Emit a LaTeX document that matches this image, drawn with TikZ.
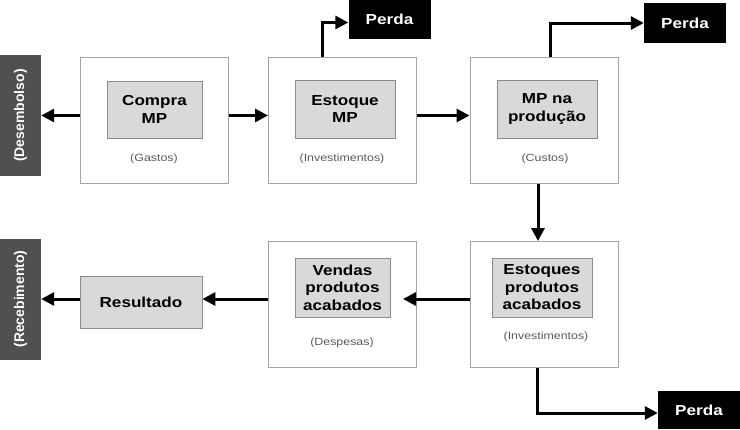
\documentclass[tikz,border=0pt]{standalone}
\usepackage{fontspec}
\usepackage{xcolor}
\usepackage{tikz}
\usetikzlibrary{arrows.meta, positioning, calc}
\newfontfamily\diagfont[FakeStretch=1.18]{Liberation Sans}
\newfontfamily\sidefont{Liberation Sans}
\definecolor{framegray}{RGB}{165, 165, 165}
\definecolor{innerfill}{RGB}{217, 217, 217}
\definecolor{innerline}{RGB}{140, 140, 140}
\definecolor{sidegray}{RGB}{80, 80, 80}
\definecolor{notegray}{RGB}{90, 90, 90}

\begin{document}
\begin{tikzpicture}[
    x=1pt, y=-1pt,
    outerbox/.style={draw=framegray, line width=1pt, fill=white, minimum width=148pt, minimum height=126pt, inner sep=0pt},
    innerbox/.style={draw=innerline, line width=0.8pt, fill=innerfill, minimum width=100pt, minimum height=58pt, inner sep=0pt, font=\diagfont\bfseries\fontsize{14.5}{17.5}\selectfont, align=center},
    lossbox/.style={fill=black, text=white, minimum width=82pt, minimum height=39pt, inner sep=0pt, font=\diagfont\bfseries\fontsize{14.5}{17}\selectfont},
    sidebox/.style={fill=sidegray, text=white, minimum width=41pt, minimum height=121pt, inner sep=0pt},
    sidetext/.style={text=white, rotate=90, font=\sidefont\bfseries\fontsize{14}{16}\selectfont},
    note/.style={text=notegray, font=\diagfont\fontsize{10.5}{12}\selectfont},
    arrow/.style={-{Triangle[length=13pt, width=13pt]}, line width=3pt, black}
]
    \useasboundingbox (0,0) rectangle (740,429);

    % Nodes - side bars
    \node[sidebox] (desemb) at (20.5,115.5) {};
    \node[sidetext] at (desemb.center) {(Desembolso)};
    \node[sidebox] (receb) at (20.5,299) {};
    \node[sidetext] at (receb.center) {(Recebimento)};

    % Nodes - top row
    \node[outerbox] (compra) at (154,120.5) {};
    \node[innerbox, minimum width=95pt, minimum height=57pt] (comprain) at (154.5,109.5) {Compra\\MP};
    \node[note] at (154,159) {(Gastos)};

    \node[outerbox] (estoque) at (342.5,120.5) {};
    \node[innerbox] (estoquein) at (345,109) {Estoque\\MP};
    \node[note] at (342,159) {(Investimentos)};

    \node[outerbox] (mp) at (544,120.5) {};
    \node[innerbox] (mpin) at (547,109) {MP na\\produção};
    \node[note] at (545,159) {(Custos)};

    % Nodes - bottom row
    \node[outerbox] (vendas) at (342.5,304.5) {};
    \node[innerbox, minimum width=95pt, minimum height=59pt] (vendasin) at (342.5,287.5) {Vendas\\produtos\\acabados};
    \node[note] at (342,343) {(Despesas)};

    \node[outerbox] (estoques) at (544,304.5) {};
    \node[innerbox, minimum height=59pt] (estoquesin) at (542,287.5) {Estoques\\produtos\\acabados};
    \node[note] at (546,337) {(Investimentos)};

    \node[innerbox, minimum width=122pt, minimum height=52pt] (resultado) at (141,302) {Resultado};

    % Nodes - losses
    \node[lossbox] (perda1) at (389.5,19.5) {Perda};
    \node[lossbox, minimum height=40pt] (perda2) at (685,23) {Perda};
    \node[lossbox, minimum height=38pt] (perda3) at (699,410) {Perda};

    % Arrows
    \draw[arrow] ([yshift=5pt]compra.west) -- (desemb.east);
    \draw[arrow] ([yshift=5pt]compra.east) -- ([yshift=5pt]estoque.west);
    \draw[arrow] ([yshift=5pt]estoque.east) -- ([yshift=5pt]mp.west);
    \draw[arrow] ([xshift=-20.5pt]estoque.north) |- ([yshift=-3pt]perda1.west);
    \draw[arrow] ([xshift=6pt]mp.north) |- (perda2.west);
    \draw[arrow] ([xshift=-6pt]mp.south) -- ([xshift=-6pt]estoques.north);
    \draw[arrow] ([xshift=-7pt]estoques.south) |- ([yshift=-3pt]perda3.west);
    \draw[arrow] ([yshift=5.5pt]estoques.west) -- ([xshift=-14pt, yshift=5.5pt]vendas.east);
    \draw[arrow] ([yshift=5.5pt]vendas.west) -- ([yshift=3pt]resultado.east);
    \draw[arrow] ([yshift=3pt]resultado.west) -- (receb.east);
\end{tikzpicture}
\end{document}
